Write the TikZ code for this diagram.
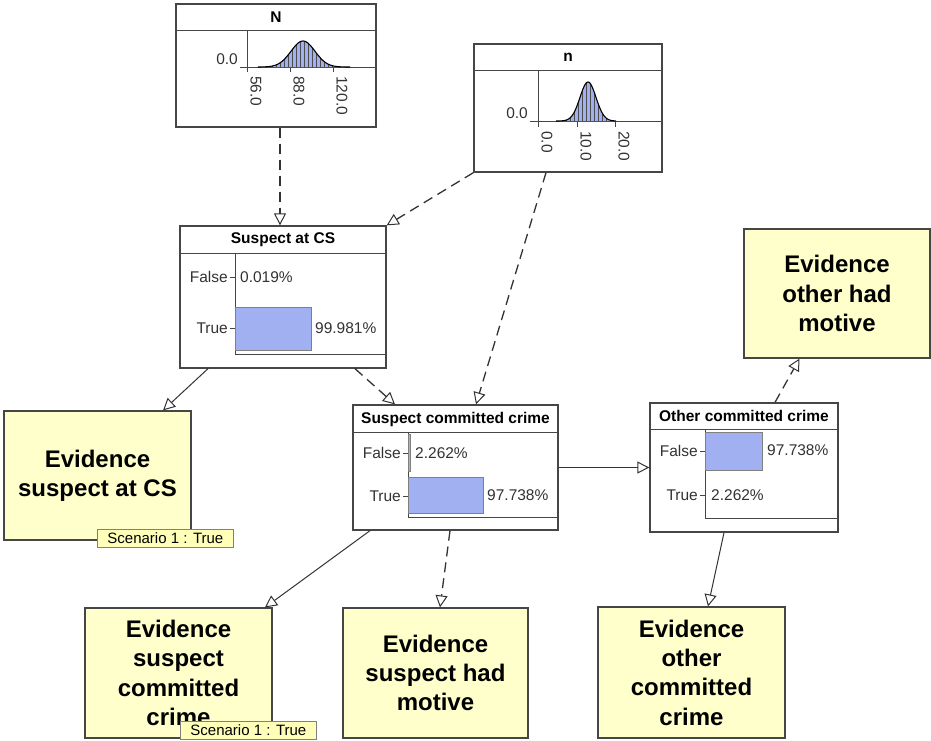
\documentclass[tikz,border=0pt]{standalone}
\usepackage{fontspec}
\setmainfont{Liberation Sans}
\usetikzlibrary{arrows.meta}
\definecolor{evyellow}{RGB}{255,255,204}
\definecolor{tagyellow}{RGB}{255,255,185}
\definecolor{barblue}{RGB}{160,176,240}
\definecolor{edgegray}{RGB}{70,70,70}
\begin{document}
\begin{tikzpicture}[x=1pt,y=-1pt,
  probbox/.style={draw=edgegray, line width=1.3pt, fill=white, rectangle, inner sep=0pt},
  evbox/.style={draw=edgegray, line width=1.2pt, fill=evyellow, rectangle, align=center,
    font=\fontsize{24}{29.3}\selectfont\bfseries, inner sep=0pt},
  tagbox/.style={draw=gray, line width=0.8pt, fill=tagyellow, font=\fontsize{15}{17}\selectfont,
    inner sep=1.5pt, anchor=north west, minimum width=136pt, minimum height=18pt},
  ttl/.style={font=\fontsize{15.5}{18}\selectfont\bfseries, inner sep=0pt},
  lbl/.style={font=\fontsize{15.5}{18}\selectfont, inner sep=0pt, text=black!80},
  dep/.style={draw=black!80, line width=1pt, -{Triangle[open, length=12pt, width=12pt, line width=1pt]}},
  dashdep/.style={dep, line width=1.3pt, dash pattern=on 10pt off 6pt},
  probbar/.style={fill=barblue, draw=gray, line width=0.6pt},
  innerline/.style={draw=edgegray, line width=1pt},
]
\useasboundingbox (0,0) rectangle (931,740);
\clip (0,0) rectangle (931,740);

% ---------- probability nodes ----------
\node[probbox, minimum width=200pt, minimum height=123pt] (N) at (276,65.5) {};
\node[probbox, minimum width=188pt, minimum height=128pt] (n) at (568,108) {};
\node[probbox, minimum width=206pt, minimum height=142pt] (SaCS) at (283,297) {};
\node[probbox, minimum width=205pt, minimum height=125pt] (SCC) at (455.5,467.5) {};
\node[probbox, minimum width=188pt, minimum height=129pt] (OCC) at (744,467.5) {};

% N contents
\draw[innerline] (176,30) -- (376,30);
\node[ttl] (Nt) at (276,17) {N};
\draw[innerline, line width=0.8pt] (247,30) -- (247,72);
\draw[innerline, line width=0.8pt] (240,67) -- (376,67);
\draw[innerline, line width=0.8pt] (290,67) -- (290,72);
\draw[innerline, line width=0.8pt] (333,67) -- (333,72);
\node[lbl, anchor=east] (N0) at (238,59) {0.0};
\node[lbl, rotate=-90, anchor=west] (Na) at (256,76) {56.0};
\node[lbl, rotate=-90, anchor=west] (Nb) at (299,76) {88.0};
\node[lbl, rotate=-90, anchor=west] (Nc) at (342,76) {120.0};
\fill[barblue] plot[domain=262:348, samples=60] (\x,{67-26*exp(-((\x-303)*(\x-303))/288)}) -- (348,67) -- (262,67) -- cycle;
\begin{scope}
  \clip plot[domain=262:348, samples=60] (\x,{67-26*exp(-((\x-303)*(\x-303))/288)}) -- (348,67) -- (262,67) -- cycle;
  \foreach \i in {264,268,...,348} \draw[line width=0.5pt, black!70] (\i,38) -- (\i,67);
\end{scope}
\draw[line width=1.1pt] plot[domain=258:350, samples=70] (\x,{67-26*exp(-((\x-303)*(\x-303))/288)});

% n contents
\draw[innerline] (474,70) -- (662,70);
\node[ttl] (nt) at (568,57) {n};
\draw[innerline, line width=0.8pt] (538,70) -- (538,127);
\draw[innerline, line width=0.8pt] (530,121) -- (662,121);
\draw[innerline, line width=0.8pt] (577,121) -- (577,127);
\draw[innerline, line width=0.8pt] (615,121) -- (615,127);
\node[lbl, anchor=east] (n0) at (528,113) {0.0};
\node[lbl, rotate=-90, anchor=west] (na) at (547,131) {0.0};
\node[lbl, rotate=-90, anchor=west] (nb) at (586,131) {10.0};
\node[lbl, rotate=-90, anchor=west] (nc) at (624,131) {20.0};
\fill[barblue] plot[domain=560:614, samples=60] (\x,{121-39*exp(-((\x-588)*(\x-588))/128)}) -- (614,121) -- (560,121) -- cycle;
\begin{scope}
  \clip plot[domain=560:614, samples=60] (\x,{121-39*exp(-((\x-588)*(\x-588))/128)}) -- (614,121) -- (560,121) -- cycle;
  \foreach \i in {562,566,...,614} \draw[line width=0.5pt, black!70] (\i,80) -- (\i,121);
\end{scope}
\draw[line width=1.1pt] plot[domain=556:616, samples=70] (\x,{121-39*exp(-((\x-588)*(\x-588))/128)});

% Suspect at CS contents
\draw[innerline] (180,253) -- (386,253);
\node[ttl] (st) at (283,240) {Suspect at CS};
\draw[innerline] (235,253) -- (235,354) -- (386,354);
\draw[innerline, line width=0.8pt] (230,277) -- (235,277);
\draw[innerline, line width=0.8pt] (230,328) -- (235,328);
\node[lbl, anchor=east] (sf) at (228,277) {False};
\node[lbl, anchor=east] (sT) at (228,328) {True};
\draw[probbar] (235,307) rectangle (311,350);
\node[lbl, anchor=west] (sfp) at (240,277) {0.019\%};
\node[lbl, anchor=west] (sTp) at (315,328) {99.981\%};

% Suspect committed crime contents
\draw[innerline] (353,432) -- (558,432);
\node[ttl] (ct) at (455.5,419) {Suspect committed crime};
\draw[innerline] (408,432) -- (408,517) -- (558,517);
\draw[innerline, line width=0.8pt] (403,453) -- (408,453);
\draw[innerline, line width=0.8pt] (403,496) -- (408,496);
\node[lbl, anchor=east] (cf) at (401,453) {False};
\node[lbl, anchor=east] (cT) at (401,496) {True};
\draw[probbar] (408,434) rectangle (410,471);
\draw[probbar] (408,477) rectangle (483,513);
\node[lbl, anchor=west] (cfp) at (415,453) {2.262\%};
\node[lbl, anchor=west] (cTp) at (487,495) {97.738\%};

% Other committed crime contents
\draw[innerline] (650,429) -- (838,429);
\node[ttl] (ot) at (744,416) {Other committed crime};
\draw[innerline] (705,429) -- (705,518) -- (838,518);
\draw[innerline, line width=0.8pt] (700,451) -- (705,451);
\draw[innerline, line width=0.8pt] (700,495) -- (705,495);
\node[lbl, anchor=east] (of) at (698,451) {False};
\node[lbl, anchor=east] (oT) at (698,495) {True};
\draw[probbar] (705,432) rectangle (762,470);
\node[lbl, anchor=west] (ofp) at (767,450) {97.738\%};
\node[lbl, anchor=west] (oTp) at (711,495) {2.262\%};

% ---------- evidence nodes ----------
\node[evbox, minimum width=187pt, minimum height=129pt] (EvCS) at (97.5,475.5) {Evidence\\suspect at CS};
\node[evbox, minimum width=187pt, minimum height=130pt] (EvSCC) at (178.5,673) {Evidence\\suspect\\committed\\crime};
\node[evbox, minimum width=185pt, minimum height=130pt] (EvSHM) at (435.5,673) {Evidence\\suspect had\\motive};
\node[evbox, minimum width=187pt, minimum height=131pt] (EvOCC) at (691.5,672.5) {Evidence\\other\\committed\\crime};
\node[evbox, minimum width=186pt, minimum height=129pt] (EvOHM) at (837,293.5) {Evidence\\other had\\motive};

\node[tagbox] (tag1) at (97,529) {Scenario 1 : True};
\node[tagbox] (tag2) at (180,721) {Scenario 1 : True};

% ---------- connectors ----------
\draw[dashdep] ([xshift=4pt]N.south) -- ([xshift=-3pt]SaCS.north);
\draw[dashdep] (n.south west) -- (SaCS.north east);
\draw[dashdep] ([xshift=-22pt]n.south) -- ([xshift=20.5pt]SCC.north);
\draw[dashdep] ([xshift=72pt]SaCS.south) -- ([xshift=-60.5pt]SCC.north);
\draw[dep] ([xshift=-75pt]SaCS.south) -- ([xshift=65.5pt]EvCS.north);
\draw[dep] (SCC.east) -- (SCC.east -| OCC.west);
\draw[dep] ([xshift=-85.5pt]SCC.south) -- ([xshift=86.5pt]EvSCC.north);
\draw[dashdep] ([xshift=-5.5pt]SCC.south) -- ([xshift=4.5pt]EvSHM.north);
\draw[dep] ([xshift=-20pt]OCC.south) -- ([xshift=16.5pt]EvOCC.north);
\draw[dashdep] ([xshift=31pt]OCC.north) -- ([xshift=-37.5pt]EvOHM.south);
\end{tikzpicture}
\end{document}
